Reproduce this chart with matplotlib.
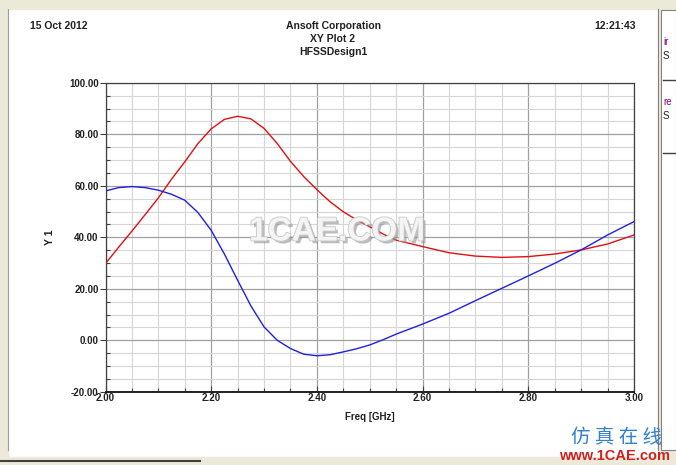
import numpy as np
import matplotlib
matplotlib.use("Agg")
import matplotlib.pyplot as plt
from matplotlib.patches import Rectangle
from matplotlib.lines import Line2D
import matplotlib.patheffects as pe

# ---- data ----
freq = [2.000, 2.025, 2.050, 2.075, 2.100, 2.125, 2.150, 2.175, 2.200, 2.225,
        2.250, 2.275, 2.300, 2.325, 2.350, 2.375, 2.400, 2.425, 2.450, 2.475,
        2.500, 2.525, 2.550, 2.600, 2.650, 2.700, 2.750, 2.800, 2.850, 2.900,
        2.950, 3.000]
red_y = [29.8, 36.2, 42.4, 48.8, 55.3, 62.6, 69.3, 76.4, 82.1, 85.8,
         87.0, 86.0, 82.3, 76.4, 69.5, 63.6, 58.5, 53.8, 49.9, 46.8,
         44.1, 41.3, 38.9, 36.4, 34.0, 32.7, 32.2, 32.5, 33.5, 35.1,
         37.4, 40.9]
blue_y = [58.0, 59.3, 59.7, 59.3, 58.3, 56.7, 54.4, 49.6, 42.7, 33.5,
          23.3, 13.4, 5.2, 0.0, -3.2, -5.4, -6.0, -5.6, -4.5, -3.3,
          -1.8, 0.2, 2.4, 6.3, 10.5, 15.4, 20.2, 25.0, 29.9, 35.1,
          40.9, 46.1]
x_ticks = [2.00, 2.20, 2.40, 2.60, 2.80, 3.00]
y_ticks = [-20, 0, 20, 40, 60, 80, 100]

W, H = 676, 465
fig = plt.figure(figsize=(W / 100, H / 100), dpi=100)
fig.patch.set_facecolor("white")
plt.rcParams["font.family"] = ["Liberation Sans", "DejaVu Sans"]

def fx(px):
    return px / W

def fy(py):
    return 1 - py / H

beige = "#ece9d8"
# window frame
fig.add_artist(Rectangle((0, fy(9)), 1, 9 / H, transform=fig.transFigure, color=beige, zorder=0))
fig.add_artist(Rectangle((0, 0), fx(8), 1, transform=fig.transFigure, color=beige, zorder=0))
fig.add_artist(Rectangle((0, 0), 1, 8 / H, transform=fig.transFigure, color=beige, zorder=0))
fig.add_artist(Rectangle((fx(658), 0), 1, 1, transform=fig.transFigure, color=beige, zorder=0))
fig.add_artist(Rectangle((fx(661), fy(450)), fx(15), 440 / H, transform=fig.transFigure,
                         facecolor="white", edgecolor="#808080", lw=0.8, zorder=0))
fig.add_artist(Line2D([0, fx(200)], [fy(461), fy(461)], transform=fig.transFigure, color="#404040", lw=1.5))
fig.add_artist(Line2D([fx(8), fx(8)], [fy(450), fy(9)], transform=fig.transFigure, color="#a0a0a0", lw=0.8))
fig.add_artist(Line2D([fx(658), fx(658)], [fy(450), fy(9)], transform=fig.transFigure, color="#808080", lw=0.8))
for yy in (80, 153):
    fig.add_artist(Line2D([fx(663), fx(676)], [fy(yy), fy(yy)], transform=fig.transFigure, color="#404040", lw=1))
fig.text(fx(663), fy(42), "ir", fontsize=7, color="#800080", va="center")
fig.text(fx(663), fy(56), "S", fontsize=7, color="#202020", va="center")
fig.text(fx(663), fy(102), "re", fontsize=7, color="#800080", va="center")
fig.text(fx(663), fy(116), "S", fontsize=7, color="#202020", va="center")

# headers
hdr = dict(fontsize=7.5, fontweight="bold", color="#202020", va="center")
fig.text(fx(30), fy(26), "15 Oct 2012", ha="left", **hdr)
fig.text(fx(333), fy(26), "Ansoft Corporation", ha="center", **hdr)
fig.text(fx(333), fy(39), "XY Plot 2", ha="center", **hdr)
fig.text(fx(333), fy(52), "HFSSDesign1", ha="center", **hdr)
fig.text(fx(636), fy(26), "12:21:43", ha="right", **hdr)

# axes
x0, x1, y0, y1 = 105.5, 634, 82.8, 391.8
ax = fig.add_axes([fx(x0), fy(y1), fx(x1 - x0), (y1 - y0) / H])
ax.set_xlim(2.0, 3.0)
ax.set_ylim(-20, 100)
ax.set_xticks(x_ticks)
ax.set_xticklabels([f"{v:.2f}" for v in x_ticks])
ax.set_yticks(y_ticks)
ax.set_yticklabels([f"{v:.2f}" for v in y_ticks])
ax.set_xticks(np.arange(2.0, 3.0001, 0.05), minor=True)
ax.set_yticks(np.arange(-20, 100.001, 5), minor=True)
ax.grid(which="major", color="#a0a0a0", lw=0.9)
ax.grid(which="minor", color="#d6d6d6", lw=0.8)
ax.set_axisbelow(True)
ax.tick_params(which="major", direction="out", length=4, width=0.8, labelsize=7,
               colors="#404040", labelcolor="#202020", pad=1)
ax.tick_params(axis="x", which="major", direction="in", length=4)
ax.tick_params(which="minor", direction="in", length=3, width=0.8, colors="#404040")
for lab in ax.get_xticklabels() + ax.get_yticklabels():
    lab.set_fontweight("bold")
for s in ax.spines.values():
    s.set_color("#404040")
    s.set_linewidth(0.9)
ax.spines["bottom"].set_linewidth(1.4)
ax.spines["bottom"].set_color("#202020")
ax.set_xlabel("Freq [GHz]", fontsize=7, fontweight="bold", color="#202020", labelpad=6)
ax.set_ylabel("Y 1", fontsize=7.5, fontweight="bold", color="#202020", labelpad=10)

ax.plot(freq, red_y, color="#e01010", lw=1.0, zorder=3)
ax.plot(freq, blue_y, color="#2020e0", lw=1.0, zorder=3)

# watermarks
fig.text(fx(337), fy(232), "1CAE.COM", ha="center", va="center", fontsize=24,
         fontweight="bold", color="#f4f4f4", zorder=10,
         path_effects=[pe.withSimplePatchShadow(offset=(2, -2), shadow_rgbFace="#909090", alpha=0.6),
                       pe.Stroke(linewidth=1.2, foreground="#c8c8c8"), pe.Normal()])
fig.text(fx(617), fy(437), "仿 真 在 线", ha="center", va="center", fontsize=14,
         color="#3080d0", family=["Noto Sans CJK SC", "DejaVu Sans"], style="italic", zorder=10)
fig.text(fx(615), fy(456), "www.1CAE.com", ha="center", va="center", fontsize=10.5,
         fontweight="bold", color="#d02020", zorder=10)

fig.savefig("out.png", dpi=100)
